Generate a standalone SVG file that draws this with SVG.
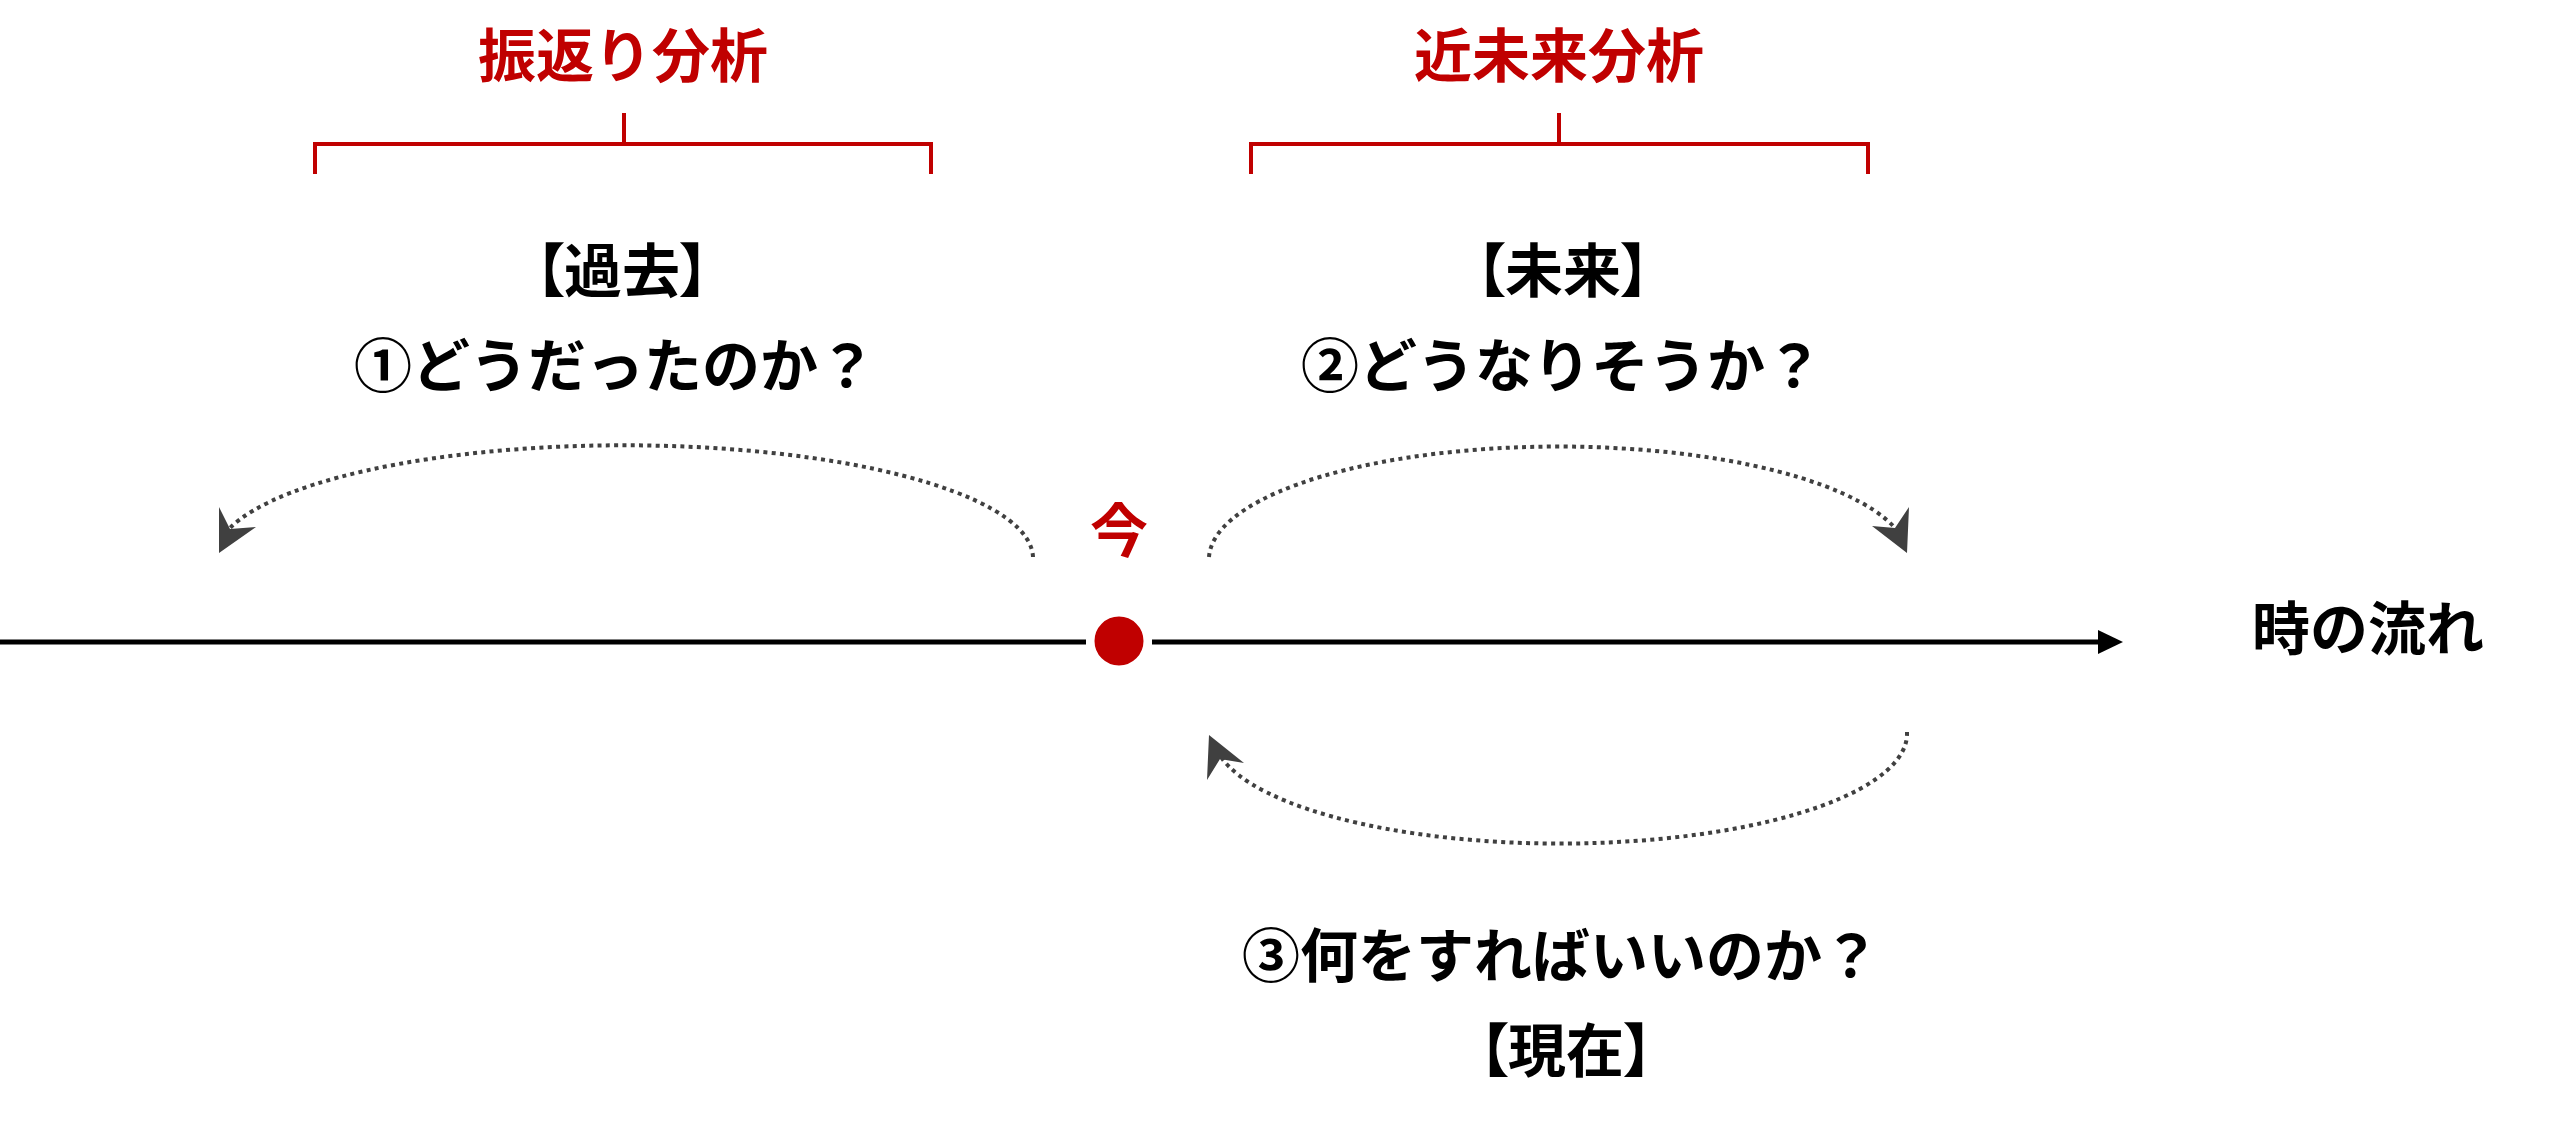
<svg xmlns="http://www.w3.org/2000/svg" width="2560" height="1121" viewBox="0 0 2560 1121">
<style>
  text { font-family: "Noto Sans CJK JP", "Noto Sans CJK SC", sans-serif; font-weight: 700; font-size: 58px; text-anchor: middle; dominant-baseline: central; fill: #000; }
  .red { fill: #C00000; }
  .br { font-feature-settings: "palt"; }
  .bracket { fill: none; stroke: #C00000; stroke-width: 4; }
  .dot { fill: none; stroke: #404040; stroke-width: 4; stroke-dasharray: 4 4.3; }
  .head { fill: #404040; }
</style>
<rect width="2560" height="1121" fill="#fff"/>
<g id="furikaeri">
  <text class="red" x="623" y="52">振返り分析</text>
  <path class="bracket" d="M315,174 V144 H931 V174 M624,144 V113"/>
</g>
<g id="kinmirai">
  <text class="red" x="1559" y="52">近未来分析</text>
  <path class="bracket" d="M1251,174 V144 H1868 V174 M1559,144 V113"/>
</g>
<g id="kako">
  <text class="br" x="622" y="267">【過去】</text>
  <text x="615" y="362">①どうだったのか？</text>
</g>
<g id="mirai">
  <text class="br" x="1563" y="267">【未来】</text>
  <text x="1562" y="362">②どうなりそうか？</text>
</g>
<g id="genzai">
  <text x="1561" y="952">③何をすればいいのか？</text>
  <text class="br" x="1566" y="1047">【現在】</text>
</g>
<g id="ima">
  <text class="red" x="1119" y="527">今</text>
  <circle cx="1119" cy="641" r="28.5" fill="#C00000" stroke="#fff" stroke-width="8"/>
</g>
<g id="toki">
  <text x="2368" y="625">時の流れ</text>
</g>
<g id="connectors">
  <line x1="0" y1="642" x2="1086" y2="642" stroke="#000" stroke-width="5"/>
  <line x1="1152" y1="642" x2="2100" y2="642" stroke="#000" stroke-width="5"/>
  <polygon points="2123,642 2098,630 2098,654" fill="#000"/>
  <path class="dot" d="M1033,557 A409,113 0 0 0 230,528"/>
  <polygon class="head" points="219,553 219,507 230,529 256,527"/>
  <path class="dot" d="M1209,557 A350,113 0 0 1 1895,528"/>
  <polygon class="head" points="1907,553 1909,507 1895,528 1872,526"/>
  <path class="dot" d="M1907,732 A347,110 0 0 1 1221,757"/>
  <polygon class="head" points="1209,735 1207,780 1220,759 1244,763"/>
</g>
</svg>
